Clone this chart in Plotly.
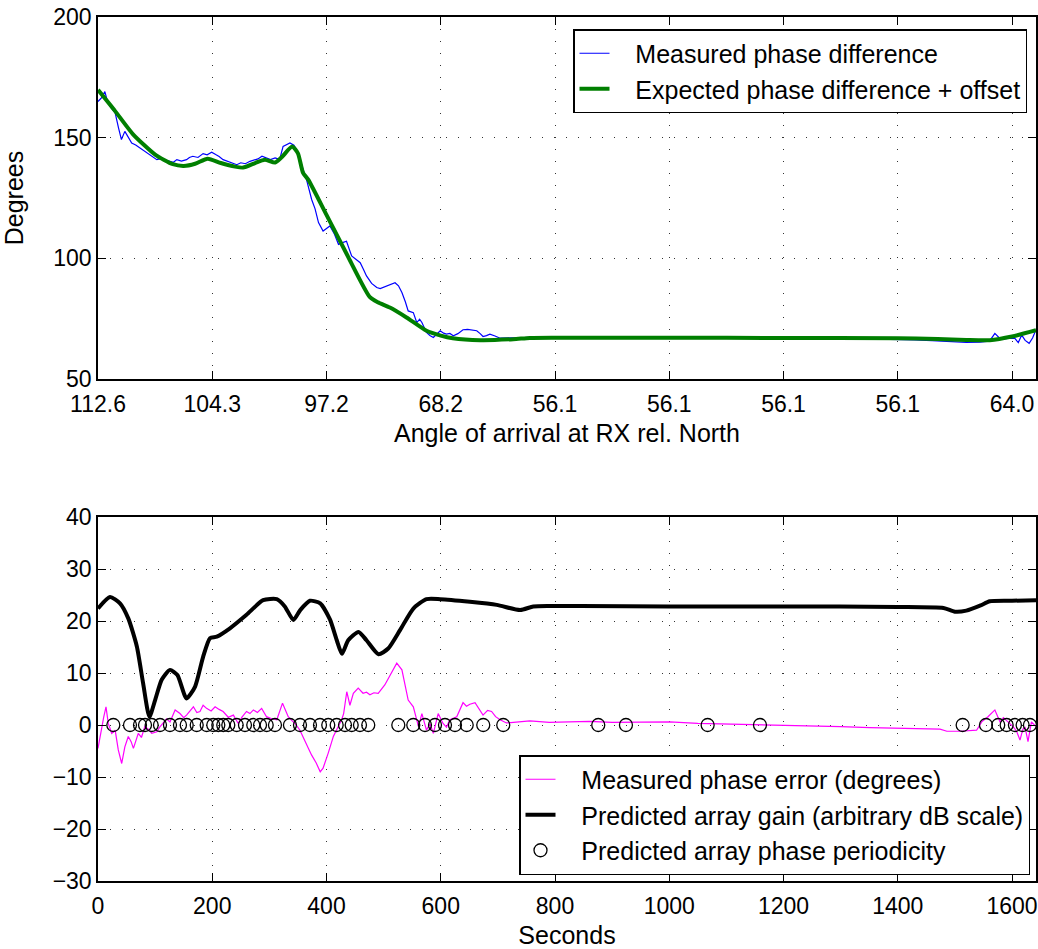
import plotly.graph_objects as go

# ---------------- data ----------------
# Top panel: hidden time axis in seconds, tick labels are arrival angles
angle_tick_vals = [0, 200, 400, 600, 800, 1000, 1200, 1400, 1600]
angle_tick_text = ["112.6", "104.3", "97.2", "68.2", "56.1", "56.1", "56.1", "56.1", "64.0"]

meas_t = [0, 6, 12, 16, 21, 26, 30, 36, 41, 47, 53, 59, 66, 74, 82, 91, 97, 103, 110, 118,
          126, 132, 138, 146, 155, 160, 166, 175, 184, 191, 199, 206, 212, 219, 226, 235,
          243, 250, 258, 266, 273, 280, 287, 295, 302, 310, 318, 324, 330, 336, 343, 350,
          359, 365, 374, 380, 386, 394, 400, 406, 414, 421, 428, 435, 444, 452, 459, 465,
          470, 479, 488, 494, 499, 510, 520, 526, 532, 538, 543, 552, 558, 563, 567, 575,
          581, 587, 593, 599, 605, 610, 616, 622, 630, 639, 647, 655, 663, 669, 674, 680,
          686, 695, 704, 730, 760, 800, 850, 900, 950, 1000, 1050, 1100, 1150, 1200, 1250,
          1300, 1350, 1400, 1430, 1460, 1497, 1520, 1544, 1556, 1563, 1570, 1577, 1585,
          1595, 1605, 1611, 1617, 1623, 1630, 1636, 1642]
meas_deg = [165.0, 166.5, 169.1, 165.5, 162.9, 161.5, 160.3, 154.0, 149.2, 152.6, 150.0, 147.8,
            147.0, 145.7, 144.6, 143.0, 142.0, 140.9, 141.3, 140.6, 140.2, 139.8, 140.9, 140.3,
            140.9, 141.8, 142.3, 141.8, 143.4, 142.9, 144.0, 143.0, 142.2, 140.9, 140.3, 139.5,
            138.8, 139.6, 139.2, 140.2, 140.8, 141.2, 142.3, 141.5, 140.9, 141.6, 141.0, 146.4,
            147.2, 147.8, 146.9, 143.8, 136.8, 132.6, 124.4, 120.5, 114.8, 111.3, 112.4, 113.4,
            110.0, 105.8, 106.5, 107.1, 101.0, 99.6, 98.2, 95.3, 92.7, 89.6, 87.9, 87.5, 87.9,
            89.0, 89.9, 88.6, 85.8, 82.0, 78.2, 77.5, 73.4, 74.8, 73.4, 69.3, 68.0, 67.2, 68.4,
            70.0, 69.0, 68.6, 68.9, 67.9, 68.8, 70.4, 70.6, 70.3, 70.0, 68.8, 67.6, 68.0, 68.6,
            67.8, 66.9, 67.1, 67.3, 67.0, 66.8, 67.1, 67.0, 67.0, 66.9, 67.1, 66.9, 67.0, 66.8,
            66.8, 66.6, 66.5, 66.2, 65.9, 65.4, 65.2, 65.3, 65.6, 66.5, 68.9, 67.2, 66.5, 66.9,
            66.8, 65.1, 68.2, 66.0, 64.8, 67.0, 70.4]

exp_t = [0, 30, 61, 100, 131, 150, 170, 192, 215, 240, 254, 275, 292, 310, 322, 340, 350,
         359, 368, 400, 436, 476, 490, 511, 540, 575, 600, 621, 669, 727, 756, 800, 1000,
         1200, 1400, 1470, 1520, 1561, 1600, 1642]
exp_deg = [169.8, 161.0, 151.5, 143.0, 139.0, 138.3, 139.2, 141.3, 139.5, 138.0, 137.6, 139.5,
           140.9, 139.7, 142.0, 146.3, 143.5, 135.4, 132.6, 118.0, 101.5, 83.9, 81.8, 79.6,
           75.5, 70.0, 68.0, 66.9, 66.1, 66.5, 67.0, 67.1, 67.1, 67.0, 66.9, 66.6, 66.2, 66.1,
           67.6, 70.2]

# Bottom panel (seconds)
err_t = [0, 6.5, 10, 14, 18, 24, 30, 35.5, 41.5, 47, 53, 58, 62, 70.5, 76, 82, 88, 94, 103,
         108, 114, 120, 126, 135, 143.5, 150, 155, 161, 167, 173, 178.5, 184, 190, 198, 205,
         212, 219, 228, 237, 245.5, 252, 260, 266, 272, 279, 286.5, 295, 304, 313, 323, 333,
         339, 345, 353.5, 362, 368, 374, 382, 389, 394, 403, 412, 420.5, 426.5, 430, 435.5,
         441, 447, 455.5, 464, 470, 476, 483, 490.5, 502, 512, 523, 532, 543, 552, 561, 567,
         575, 581, 587, 595.5, 604, 610, 616, 628, 639, 645, 651, 660, 667, 674, 682, 689,
         696, 704, 715, 727, 756, 790, 815, 860, 900, 950, 1001, 1050, 1100, 1176, 1250, 1300,
         1351, 1400, 1440, 1474, 1486, 1510, 1538, 1547, 1558, 1570, 1579, 1585, 1591, 1602,
         1608, 1614, 1619, 1623, 1628, 1634, 1642]
err_val = [-4.5, -0.3, 1.5, 3.5, 0.3, -1.6, -1.0, -4.8, -7.4, -4.2, -2.2, -3.2, -4.5, -1.6,
           -2.4, -0.3, -0.8, -1.6, -1.3, -0.4, 0.3, 1.2, 0.6, 2.9, 2.2, 1.4, 1.9, 2.8, 3.5, 2.4,
           2.6, 3.8, 3.2, 2.7, 3.5, 3.0, 2.6, 1.5, 1.9, 0.3, 1.5, 2.6, 2.2, 2.9, 2.4, 3.2, 1.6,
           1.2, 1.0, 4.2, 1.6, 0.9, 0.3, -1.0, -3.2, -4.4, -5.8, -7.3, -9.0, -8.3, -5.4, -2.2,
           -0.3, 1.0, 2.2, 6.4, 3.8, 6.1, 7.1, 6.1, 6.3, 5.8, 6.2, 6.1, 7.7, 9.8, 11.9, 10.6,
           4.8, 3.5, -0.3, 2.2, -1.0, 0.3, -1.6, 2.2, 0.3, -0.4, 1.0, 1.6, 4.3, 3.6, 4.0, 4.3,
           3.2, 1.9, 2.8, 2.6, 1.6, 1.0, 0.4, 0.5, 0.8, 0.5, 0.6, 0.7, 0.5, 0.6, 0.6, 0.3, 0.2,
           0.0, -0.1, -0.3, -0.5, -0.6, -0.7, -0.8, -1.2, -1.2, -1.0, 0.6, 1.6, 2.9, 0.6, 1.4,
           0.8, -0.3, -1.2, -2.9, -0.8, -0.5, -3.2, 0.6, -0.3]

gain_t = [0, 21, 38.5, 53, 68, 79, 90, 100, 111.5, 126, 139, 155, 170, 184, 196, 208, 231,
          260, 289, 313, 327, 342, 354, 371, 389, 406, 418, 427, 438, 456, 470, 491, 508, 529,
          552, 575, 599, 651, 698, 739, 762, 791, 844, 1000, 1200, 1400, 1480, 1500, 1520,
          1545, 1561, 1600, 1642]
gain_val = [22.4, 24.6, 23.4, 20.5, 15.1, 8.0, 1.6, 4.8, 8.7, 10.6, 9.6, 5.1, 7.4, 13.1, 16.7,
            17.0, 18.6, 21.2, 24.0, 24.2, 22.8, 20.2, 22.1, 23.9, 23.4, 20.3, 16.3, 13.7, 16.3,
            17.9, 16.3, 13.6, 14.7, 18.3, 22.4, 24.2, 24.2, 23.7, 23.1, 22.1, 22.8, 22.9, 22.9,
            22.8, 22.8, 22.7, 22.5, 21.8, 22.0, 23.0, 23.8, 23.9, 24.0]

period_t = [26.8, 56, 73.5, 82.3, 94, 108.5, 126, 143.5, 155.3, 172.8, 190.3, 201.8, 210.6,
            219.3, 228.1, 242.8, 257.3, 271.8, 283.6, 295.3, 309.8, 336, 353.6, 371.1, 388.6,
            403.1, 417.8, 432.4, 444.1, 458.6, 473.1, 525.7, 551.9, 572.4, 589.9, 607.4, 624.9,
            645.4, 674.4, 709.4, 875.7, 924.2, 1067.2, 1158.8, 1513.6, 1554.4, 1575.9, 1590.6,
            1605.1, 1618.6, 1631.4]
period_val = [0] * len(period_t)

sec_ticks = [0, 200, 400, 600, 800, 1000, 1200, 1400, 1600]

# ---------------- figure ----------------
FONT = "Liberation Sans, Arial, Helvetica, sans-serif"
FS = 25
TFS = 23
W, H = 1038, 949
PAD = "\u00a0\u00a0\u00a0"

fig = go.Figure()
fig.add_trace(go.Scatter(x=meas_t, y=meas_deg, mode="lines",
                         name=PAD + "Measured phase difference",
                         line=dict(color="#0000FF", width=1.2), xaxis="x", yaxis="y",
                         legend="legend"))
fig.add_trace(go.Scatter(x=exp_t, y=exp_deg, mode="lines", line_shape="spline",
                         name=PAD + "Expected phase difference + offset",
                         line=dict(color="#007F00", width=4, smoothing=0.6), xaxis="x", yaxis="y",
                         legend="legend"))
fig.add_trace(go.Scatter(x=err_t, y=err_val, mode="lines",
                         name=PAD + "Measured phase error (degrees)",
                         line=dict(color="#FF00FF", width=1.2), xaxis="x2", yaxis="y2",
                         legend="legend2"))
fig.add_trace(go.Scatter(x=gain_t, y=gain_val, mode="lines", line_shape="spline",
                         name=PAD + "Predicted array gain (arbitrary dB scale)",
                         line=dict(color="#000000", width=4, smoothing=0.6), xaxis="x2", yaxis="y2",
                         legend="legend2"))
fig.add_trace(go.Scatter(x=period_t, y=period_val, mode="markers",
                         name=PAD + "Predicted array phase periodicity",
                         marker=dict(symbol="circle-open", size=13, color="#000000",
                                     line=dict(width=1.3, color="#000000")),
                         xaxis="x2", yaxis="y2", legend="legend2"))

xdom = [98 / W, 1036 / W]
common_axis = dict(showline=True, linecolor="black", linewidth=1.5, mirror="ticks",
                   ticks="inside", ticklen=8, tickwidth=1, tickcolor="black",
                   showgrid=True, gridcolor="#333333", gridwidth=1, griddash="1px,11px",
                   zeroline=False, automargin=False, ticklabeloverflow="allow",
                   tickfont=dict(family=FONT, size=TFS, color="black"))

fig.update_layout(
    width=W, height=H,
    margin=dict(l=0, r=0, t=0, b=0),
    paper_bgcolor="white", plot_bgcolor="white",
    font=dict(family=FONT, size=FS, color="black"),
    xaxis=dict(domain=xdom, anchor="y", range=[0, 1642], tickvals=angle_tick_vals,
               ticktext=angle_tick_text, ticklabelstandoff=4,
               title=dict(text="Angle of arrival at RX rel. North", standoff=8,
                          font=dict(family=FONT, size=FS)), **common_axis),
    yaxis=dict(domain=[1 - 379 / H, 1 - 17 / H], anchor="x", range=[50, 200],
               tickvals=[50, 100, 150, 200],
               title=dict(text="Degrees", standoff=24, font=dict(family=FONT, size=FS)),
               **common_axis),
    xaxis2=dict(domain=xdom, anchor="y2", range=[0, 1642], tickvals=sec_ticks,
                ticklabelstandoff=4,
                title=dict(text="Seconds", standoff=8, font=dict(family=FONT, size=FS)),
                **common_axis),
    yaxis2=dict(domain=[1 - 881 / H, 1 - 517 / H], anchor="x2", range=[-30, 40],
                tickvals=[-30, -20, -10, 0, 10, 20, 30, 40], **common_axis),
    legend=dict(x=1027 / W, y=1 - 29 / H, xanchor="right", yanchor="top",
                bgcolor="white", bordercolor="black", borderwidth=1.5,
                font=dict(family=FONT, size=FS), tracegroupgap=0),
    legend2=dict(x=1030 / W, y=1 - 755 / H, xanchor="right", yanchor="top",
                 bgcolor="white", bordercolor="black", borderwidth=1.5,
                 font=dict(family=FONT, size=FS), tracegroupgap=0),
    showlegend=True,
)

fig.write_html("out.html")
